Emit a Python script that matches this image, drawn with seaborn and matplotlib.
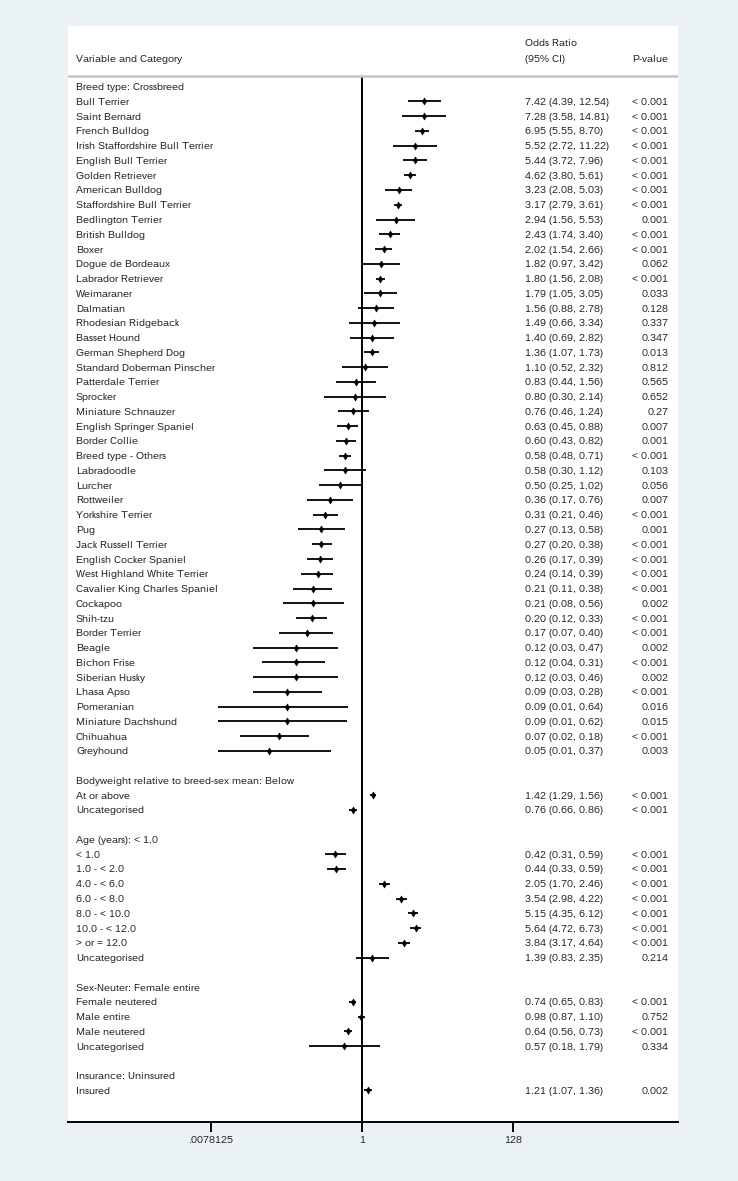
import numpy as np
import pandas as pd
import matplotlib
matplotlib.use("Agg")
import matplotlib.pyplot as plt
import matplotlib.ticker as mticker
import seaborn as sns

# ---------------- data ----------------
breed_header = "Breed type: Crossbreed"
breeds = ["Bull Terrier", "Saint Bernard", "French Bulldog", "Irish Staffordshire Bull Terrier",
          "English Bull Terrier", "Golden Retriever", "American Bulldog", "Staffordshire Bull Terrier",
          "Bedlington Terrier", "British Bulldog", "Boxer", "Dogue de Bordeaux", "Labrador Retriever",
          "Weimaraner", "Dalmatian", "Rhodesian Ridgeback", "Basset Hound", "German Shepherd Dog",
          "Standard Doberman Pinscher", "Patterdale Terrier", "Sprocker", "Miniature Schnauzer",
          "English Springer Spaniel", "Border Collie", "Breed type - Others", "Labradoodle", "Lurcher",
          "Rottweiler", "Yorkshire Terrier", "Pug", "Jack Russell Terrier", "English Cocker Spaniel",
          "West Highland White Terrier", "Cavalier King Charles Spaniel", "Cockapoo", "Shih-tzu",
          "Border Terrier", "Beagle", "Bichon Frise", "Siberian Husky", "Lhasa Apso", "Pomeranian",
          "Miniature Dachshund", "Chihuahua", "Greyhound"]
breed_or = [7.42, 7.28, 6.95, 5.52, 5.44, 4.62, 3.23, 3.17, 2.94, 2.43, 2.02, 1.82, 1.80, 1.79, 1.56,
            1.49, 1.40, 1.36, 1.10, 0.83, 0.80, 0.76, 0.63, 0.60, 0.58, 0.58, 0.50, 0.36, 0.31, 0.27,
            0.27, 0.26, 0.24, 0.21, 0.21, 0.20, 0.17, 0.12, 0.12, 0.12, 0.09, 0.09, 0.09, 0.07, 0.05]
breed_lo = [4.39, 3.58, 5.55, 2.72, 3.72, 3.80, 2.08, 2.79, 1.56, 1.74, 1.54, 0.97, 1.56, 1.05, 0.88,
            0.66, 0.69, 1.07, 0.52, 0.44, 0.30, 0.46, 0.45, 0.43, 0.48, 0.30, 0.25, 0.17, 0.21, 0.13,
            0.20, 0.17, 0.14, 0.11, 0.08, 0.12, 0.07, 0.03, 0.04, 0.03, 0.03, 0.01, 0.01, 0.02, 0.01]
breed_hi = [12.54, 14.81, 8.70, 11.22, 7.96, 5.61, 5.03, 3.61, 5.53, 3.40, 2.66, 3.42, 2.08, 3.05, 2.78,
            3.34, 2.82, 1.73, 2.32, 1.56, 2.14, 1.24, 0.88, 0.82, 0.71, 1.12, 1.02, 0.76, 0.46, 0.58,
            0.38, 0.39, 0.39, 0.38, 0.56, 0.33, 0.40, 0.47, 0.31, 0.46, 0.28, 0.64, 0.62, 0.18, 0.37]
breed_p = ["< 0.001", "< 0.001", "< 0.001", "< 0.001", "< 0.001", "< 0.001", "< 0.001", "< 0.001",
           "0.001", "< 0.001", "< 0.001", "0.062", "< 0.001", "0.033", "0.128", "0.337", "0.347",
           "0.013", "0.812", "0.565", "0.652", "0.27", "0.007", "0.001", "< 0.001", "0.103", "0.056",
           "0.007", "< 0.001", "0.001", "< 0.001", "< 0.001", "< 0.001", "< 0.001", "0.002", "< 0.001",
           "< 0.001", "0.002", "< 0.001", "0.002", "< 0.001", "0.016", "0.015", "< 0.001", "0.003"]

bw_header = "Bodyweight relative to breed-sex mean: Below"
bw_cats = ["At or above", "Uncategorised"]
bw_or = [1.42, 0.76]
bw_lo = [1.29, 0.66]
bw_hi = [1.56, 0.86]
bw_p = ["< 0.001", "< 0.001"]

age_header = "Age (years): < 1.0"
age_cats = ["< 1.0", "1.0 - < 2.0", "4.0 - < 6.0", "6.0 - < 8.0", "8.0 - < 10.0", "10.0 - < 12.0",
            "> or = 12.0", "Uncategorised"]
age_or = [0.42, 0.44, 2.05, 3.54, 5.15, 5.64, 3.84, 1.39]
age_lo = [0.31, 0.33, 1.70, 2.98, 4.35, 4.72, 3.17, 0.83]
age_hi = [0.59, 0.59, 2.46, 4.22, 6.12, 6.73, 4.64, 2.35]
age_p = ["< 0.001"] * 7 + ["0.214"]

sex_header = "Sex-Neuter: Female entire"
sex_cats = ["Female neutered", "Male entire", "Male neutered", "Uncategorised"]
sex_or = [0.74, 0.98, 0.64, 0.57]
sex_lo = [0.65, 0.87, 0.56, 0.18]
sex_hi = [0.83, 1.10, 0.73, 1.79]
sex_p = ["< 0.001", "0.752", "< 0.001", "0.334"]

ins_header = "Insurance: Uninsured"
ins_cats = ["Insured"]
ins_or = [1.21]
ins_lo = [1.07]
ins_hi = [1.36]
ins_p = ["0.002"]

tick_values = [2.0 ** -7, 1, 2.0 ** 7]
tick_labels = [".0078125", "1", "128"]

# ---------------- assemble rows ----------------
groups = [
    (breed_header, breeds, breed_or, breed_lo, breed_hi, breed_p),
    (bw_header, bw_cats, bw_or, bw_lo, bw_hi, bw_p),
    (age_header, age_cats, age_or, age_lo, age_hi, age_p),
    (sex_header, sex_cats, sex_or, sex_lo, sex_hi, sex_p),
    (ins_header, ins_cats, ins_or, ins_lo, ins_hi, ins_p),
]
rows = []
for gi, (hdr, cats, ors, los, his, ps) in enumerate(groups):
    if gi > 0:
        rows.append(dict(label="", or_=np.nan, lo=np.nan, hi=np.nan, p=""))
    rows.append(dict(label=hdr, or_=np.nan, lo=np.nan, hi=np.nan, p=""))
    for c, o, l, h, p in zip(cats, ors, los, his, ps):
        rows.append(dict(label=c, or_=o, lo=l, hi=h, p=p))
df = pd.DataFrame(rows)
df["row"] = np.arange(len(df))
pts = df.dropna(subset=["or_"])

# ---------------- style ----------------
sns.set_style("white")
plt.rcParams["font.family"] = ["Liberation Sans", "DejaVu Sans"]
plt.rcParams["text.hinting"] = "native"
plt.rcParams["text.hinting_factor"] = 1
BG = "#eaf2f3"
TXT = "#1e1e1e"
FS = 7.1
VA = "center_baseline"

fig = plt.figure(figsize=(7.38, 11.81), dpi=100, facecolor=BG)
ax = fig.add_axes([68 / 738, 1 - 1122 / 1181, 610 / 738, (1122 - 26) / 1181])
ax.set_facecolor("white")
ax.set_xscale("log", base=2)
ax.set_xlim(2.0 ** -13.61, 2.0 ** 14.63)
ax.set_ylim(70.14, -4.11)

# CI lines
ax.hlines(pts["row"], pts["lo"], pts["hi"], color="black", linewidth=1.3, zorder=2)
# point estimates
sns.scatterplot(data=pts, x="or_", y="row", ax=ax, marker="d", s=13, color="black",
                edgecolor="black", linewidth=0.4, zorder=3, legend=False)

# reference line at 1
ax.vlines(1, -0.745, 70.14, color="black", linewidth=1.4, zorder=1)
# header separator
ax.axhline(-0.745, color="#c4c4c4", linewidth=1.8, zorder=1)

# text columns
tr = ax.get_yaxis_transform()  # x in axes fraction, y in data
x_lab, x_or, x_p = 0.0131, 0.749, 0.9844
for _, r in df.iterrows():
    if r["label"]:
        ax.text(x_lab, r["row"], r["label"], transform=tr, ha="left", va=VA, fontsize=FS, color=TXT)
    if not np.isnan(r["or_"]):
        ax.text(x_or, r["row"], f"{r['or_']:.2f} ({r['lo']:.2f}, {r['hi']:.2f})", transform=tr,
                ha="left", va=VA, fontsize=FS, color=TXT)
        ax.text(x_p, r["row"], r["p"], transform=tr, ha="right", va=VA, fontsize=FS, color=TXT)

ax.text(x_lab, -1.94, "Variable and Category", transform=tr, ha="left", va=VA, fontsize=FS, color=TXT)
ax.text(x_or, -2.96, "Odds Ratio", transform=tr, ha="left", va=VA, fontsize=FS, color=TXT)
ax.text(x_or, -1.94, "(95% CI)", transform=tr, ha="left", va=VA, fontsize=FS, color=TXT)
ax.text(x_p, -1.94, "P-value", transform=tr, ha="right", va=VA, fontsize=FS, color=TXT)

# axes / ticks
for s in ["top", "left", "right"]:
    ax.spines[s].set_visible(False)
ax.spines["bottom"].set_color("black")
ax.spines["bottom"].set_linewidth(1.4)
ax.xaxis.set_major_locator(mticker.FixedLocator(tick_values))
ax.xaxis.set_major_formatter(mticker.FixedFormatter(tick_labels))
ax.xaxis.set_minor_locator(mticker.NullLocator())
ax.tick_params(axis="x", which="major", bottom=True, direction="out", length=7, width=1.4,
               color="black", labelsize=FS, labelcolor=TXT, pad=3)
ax.set_yticks([])
ax.set_xlabel("")
ax.set_ylabel("")

fig.savefig("out.png", dpi=100, facecolor=BG)
